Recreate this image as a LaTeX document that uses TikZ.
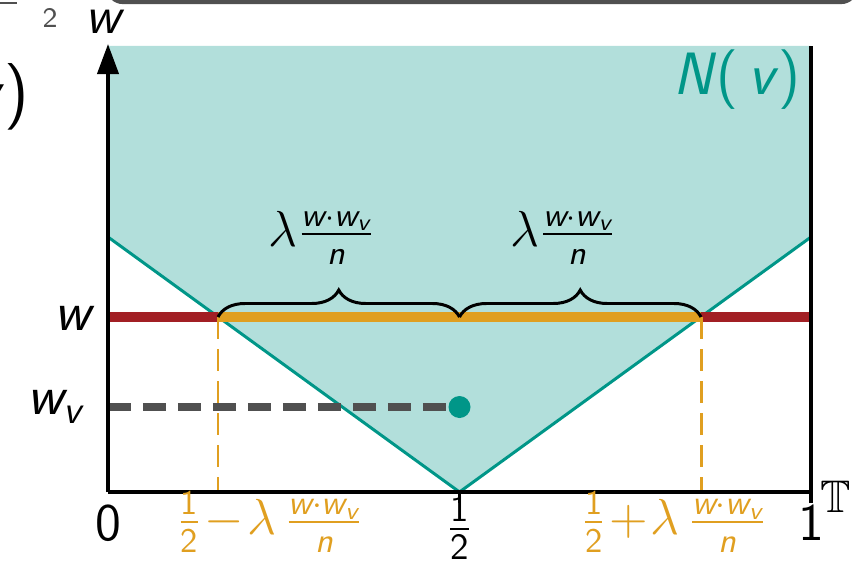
\documentclass[tikz,border=0pt]{standalone}
\usepackage{amsmath, amssymb}
\usepackage{tikz}
\usetikzlibrary{calc, arrows.meta, decorations.pathreplacing}
\definecolor{nteal}{RGB}{0,150,136}
\definecolor{nfill}{RGB}{178,223,219}
\definecolor{wred}{RGB}{162,31,36}
\definecolor{worange}{RGB}{224,159,32}
\definecolor{dgray}{RGB}{80,80,80}
\newcommand{\mv}[1]{\textsf{\slshape #1}}
\newcommand{\wfrac}{\frac{\mv{w}\cdot\mv{w}_{\mv{v}}}{\mv{n}}}

\begin{document}
\begin{tikzpicture}[
    axis/.style={line width=1.1pt},
    vline/.style={nteal, line width=0.85pt},
    wline/.style={line width=2.6pt},
    guide/.style={worange, line width=0.85pt, dash pattern=on 0.22cm off 0.1cm},
    spanbrace/.style={decorate, decoration={brace, amplitude=0.27cm}, line width=0.85pt},
    lab/.style={inner sep=1pt, font=\fontsize{15}{18}\selectfont},
]
    % 宽度、高度
    \def\W{7.03}
    \def\H{4.46}
    \def\wy{1.75}   % w 的高度
    \def\vy{0.85}   % w_v 的高度
    \def\xa{1.10}   % 1/2 - lambda w w_v / n
    \def\xb{5.93}   % 1/2 + lambda w w_v / n

    \useasboundingbox (-1.08,-0.76) rectangle (7.58,4.92);

    % --- 上方被裁掉的部分 ---
    \draw[dgray, line width=1.2pt, rounded corners=0.15cm] (0,5.3) -- (0,4.90) -- (7.48,4.90) -- (7.48,5.3);
    \draw[dgray, line width=0.6pt] (-1.08,4.89) -- (-0.91,4.89);
    \node[inner sep=0pt, text=dgray, font=\fontsize{8}{10}\selectfont] (frag2) at (-0.58,4.74) {\textsf{2}};
    \node[inner sep=0pt, anchor=east, font=\fontsize{19}{22}\selectfont] (fragNv) at (-0.78,3.95) {\mv{v}\textsf{)}};

    % --- 坐标点 ---
    \coordinate (O) at (0,0);
    \coordinate (ytop) at (0,4.48);
    \coordinate (xend) at (\W,0);
    \coordinate (half) at (\W/2,0);
    \coordinate (vl) at (0,2.55);
    \coordinate (vr) at (\W,2.55);
    \coordinate (wl) at (0,\wy);
    \coordinate (wr) at (\W,\wy);
    \coordinate (wa) at (\xa,\wy);
    \coordinate (wb) at (\xb,\wy);
    \coordinate (wm) at (\W/2,\wy);
    \coordinate (vv) at (0,\vy);

    % --- N(v) 区域 ---
    \fill[nfill] (0,\H) -- (vl) -- (half) -- (vr) -- (\W,\H) -- cycle;
    \draw[vline] (vl) -- (half) -- (vr);

    % --- w 线 ---
    \draw[wline, wred] (wl) -- (wr);
    \draw[wline, worange] (wa) -- (wb);
    \draw[guide] (wa) -- (wa |- O);
    \draw[guide] (wb) -- (wb |- O);

    % --- 大括号 ---
    \draw[spanbrace] (wa) -- (wm);
    \draw[spanbrace] (wm) -- (wb);
    \node[inner sep=1pt, font=\fontsize{13.5}{16}\selectfont] (lamA) at ($(wa)!0.5!(wm)+(-0.17,0.79)$) {$\lambda\wfrac$};
    \node[inner sep=1pt, font=\fontsize{13.5}{16}\selectfont] (lamB) at ($(wm)!0.5!(wb)+(-0.17,0.79)$) {$\lambda\wfrac$};

    % --- w_v 点 ---
    \node[circle, fill=nteal, inner sep=0pt, minimum size=0.22cm] (pv) at (\W/2,\vy) {};
    \draw[dgray, line width=2pt, dash pattern=on 0.23cm off 0.12cm] (vv) -- (pv);

    % --- 坐标轴 ---
    \draw[axis, -{Triangle[length=0.3cm, width=0.21cm]}] (O) -- (ytop);
    \draw[axis] (O) -- (xend);
    \draw[axis] ($(xend)+(0,-0.11)$) -- (\W,\H);
    \draw[axis] (half) -- ++(0,-0.11);

    % --- 标签 ---
    \node[lab] (ylab) at (-0.03,4.70) {\mv{w}};
    \node[lab, text=nteal, font=\fontsize{17}{20}\selectfont] (Nv) at (6.29,4.12) {\mv{N}\textsf{(}\,\mv{v}\textsf{)}};
    \node[lab, font=\fontsize{16}{19}\selectfont] (wlab) at (-0.33,1.74) {\mv{w}};
    \node[lab, font=\fontsize{16}{19}\selectfont] (wvlab) at (-0.53,0.85) {$\mv{w}_{\mv{v}}$};
    \node[lab] (zero) at (0,-0.31) {\textsf{0}};
    \node[lab] (one) at (\W,-0.31) {\textsf{1}};
    \node[lab] (halflab) at (\W/2,-0.36) {$\frac{\textsf{1}}{\textsf{2}}$};
    \node[inner sep=1pt, font=\fontsize{13}{15}\selectfont] (Tlab) at (7.28,-0.05) {$\mathbb{T}$};
    \node[lab, text=worange, font=\fontsize{14}{16}\selectfont] (xalab) at (1.62,-0.30) {$\frac{\textsf{1}}{\textsf{2}}\!-\!\lambda\,\wfrac$};
    \node[lab, text=worange, font=\fontsize{14}{16}\selectfont] (xblab) at (5.66,-0.30) {$\frac{\textsf{1}}{\textsf{2}}\!+\!\lambda\,\wfrac$};
\end{tikzpicture}
\end{document}
